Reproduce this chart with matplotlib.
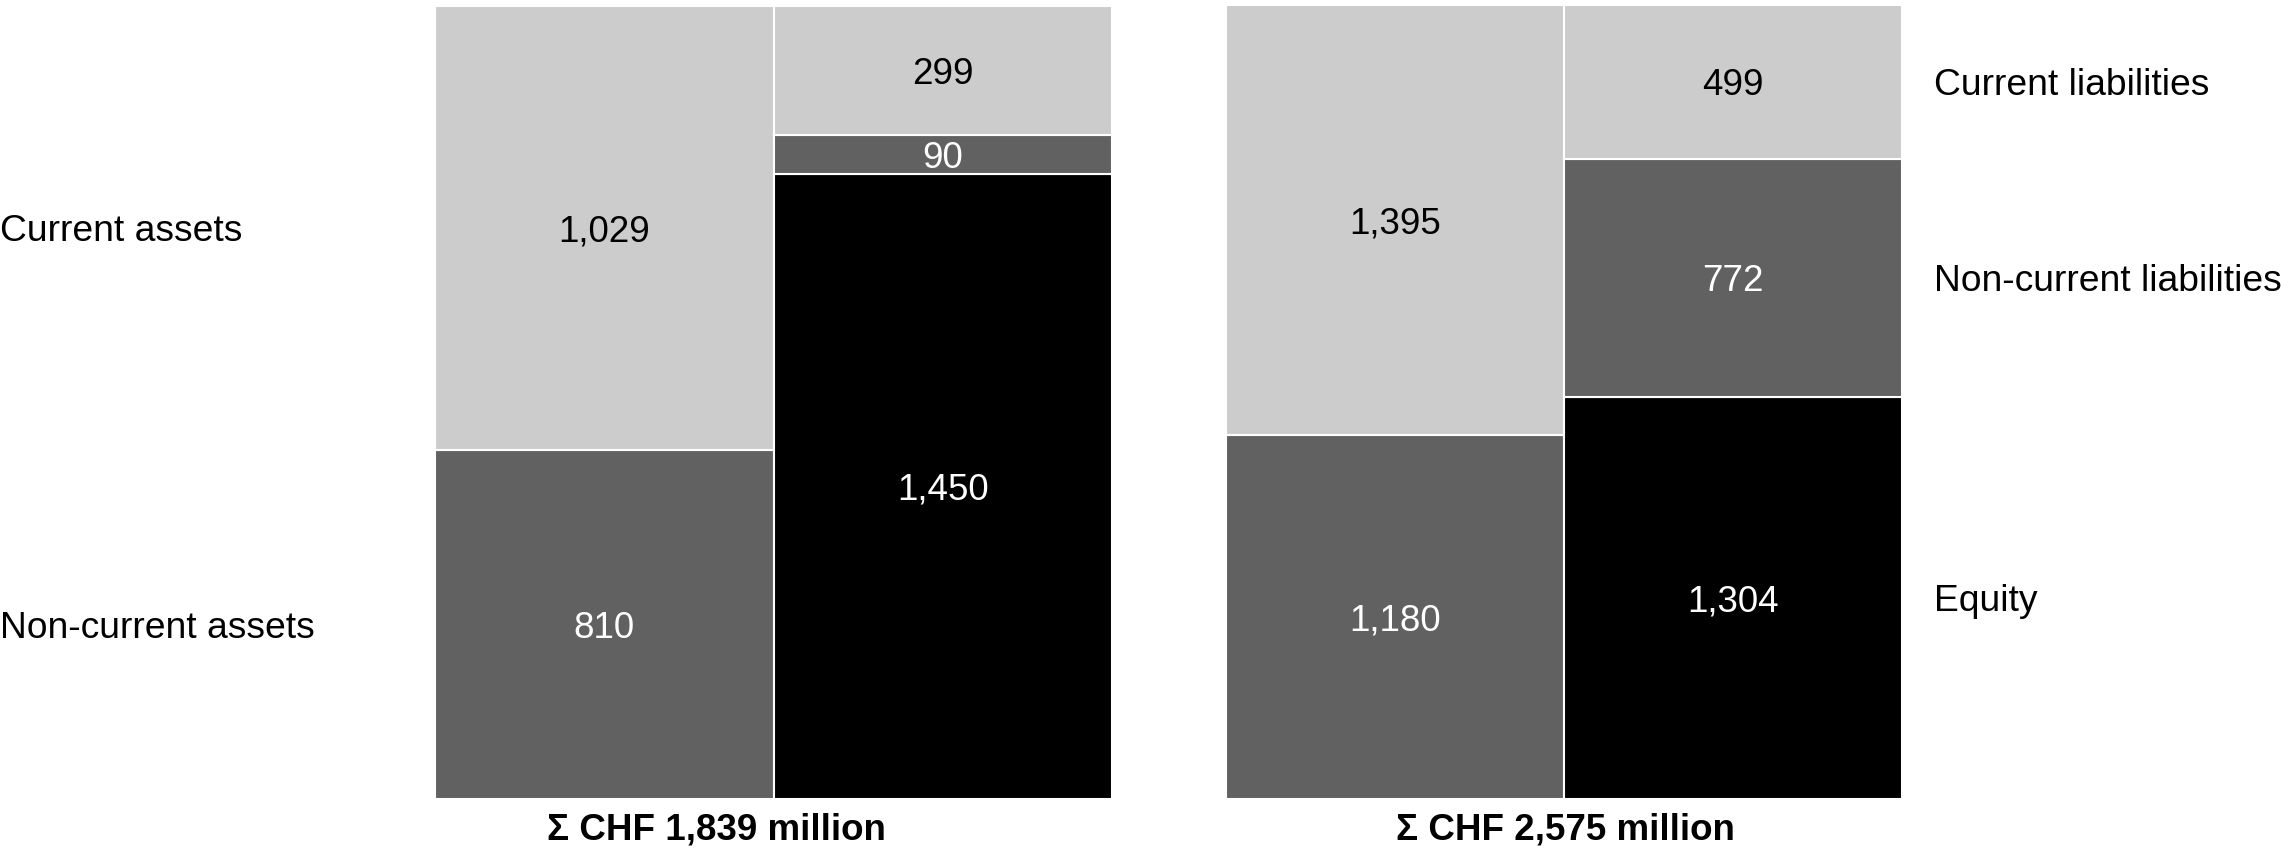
import matplotlib
matplotlib.use("Agg")
import matplotlib.pyplot as plt
import matplotlib.transforms as mtransforms

plt.rcParams['font.family'] = ['Liberation Sans', 'DejaVu Sans']

# Balance sheet, CHF million
asset_labels = ["Non-current assets", "Current assets"]
asset_values = [810, 1029]

funding_labels = ["Equity", "Non-current liabilities", "Current liabilities"]
left_funding_values = [1450, 90, 299]
right_assets_values = [1180, 1395]
right_funding_values = [1304, 772, 499]

left_total = "Σ CHF 1,839 million"
right_total = "Σ CHF 2,575 million"

LIGHT = "#cccccc"
DARK = "#616161"
BLACK = "#000000"
asset_colors = [DARK, LIGHT]
funding_colors = [BLACK, DARK, LIGHT]

W, H = 2282, 851
fig = plt.figure(figsize=(W / 100, H / 100), dpi=100)

# small downward nudge so glyphs sit optically centred
nudge = mtransforms.ScaledTranslation(0, -4 / 100, fig.dpi_scale_trans)


def px_axes(x0, y0, x1, y1):
    return fig.add_axes([x0 / W, 1 - y1 / H, (x1 - x0) / W, (y1 - y0) / H])


def stacked_column(ax, xpos, values, colors):
    total = sum(values)
    bottom = 0.0
    mids = []
    for v, c in zip(values, colors):
        frac = v / total
        ax.bar(xpos, frac, bottom=bottom, width=1.0, color=c,
               edgecolor="white", linewidth=1.5, align="edge")
        mid = bottom + frac / 2
        mids.append(mid)
        txt_color = "black" if c == LIGHT else "white"
        ax.text(xpos + 0.5, mid, f"{v:,}", ha="center", va="center",
                fontsize=26.5, color=txt_color,
                transform=ax.transData + nudge)
        bottom += frac
    return mids


def setup(ax):
    ax.set_xlim(0, 2)
    ax.set_ylim(0, 1)
    ax.axis("off")


ax1 = px_axes(435, 6, 1112, 799)
setup(ax1)
mids_assets = stacked_column(ax1, 0, asset_values, asset_colors)
stacked_column(ax1, 1, left_funding_values, funding_colors)

ax2 = px_axes(1226, 5, 1902, 799)
setup(ax2)
stacked_column(ax2, 0, right_assets_values, asset_colors)
mids_funding = stacked_column(ax2, 1, right_funding_values, funding_colors)

# Category labels beside the columns
tr_left = mtransforms.blended_transform_factory(fig.transFigure, ax1.transData)
for lab, y in zip(asset_labels, mids_assets):
    fig.text(0.0, y, lab, transform=tr_left + nudge, ha="left", va="center",
             fontsize=26.8)

tr_right = mtransforms.blended_transform_factory(fig.transFigure, ax2.transData)
for lab, y in zip(funding_labels, mids_funding):
    fig.text(1934 / W, y, lab, transform=tr_right + nudge, ha="left", va="center",
             fontsize=26.8)

# Totals below each chart
fig.text(716 / W, 1 - 830 / H, left_total, ha="center", va="center",
         fontsize=26.5, fontweight="bold")
fig.text(1565 / W, 1 - 830 / H, right_total, ha="center", va="center",
         fontsize=26.5, fontweight="bold")

fig.savefig("out.png", dpi=100, facecolor="white")
